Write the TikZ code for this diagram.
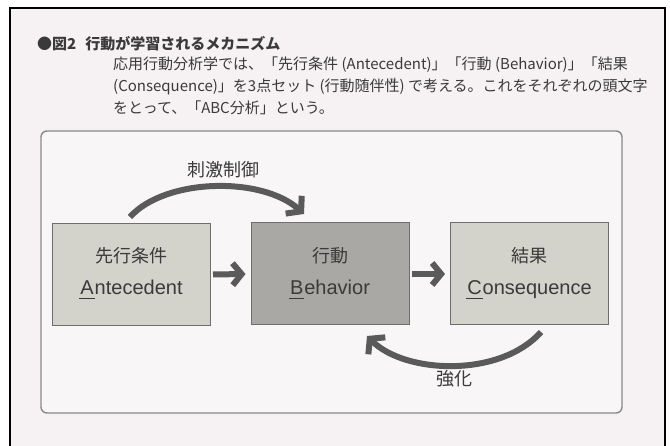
\documentclass[tikz,border=0pt]{standalone}
\usepackage{fontspec}
\setmainfont{Liberation Sans}
\newfontfamily\jp{Noto Sans CJK JP}
\usetikzlibrary{arrows.meta}
\definecolor{pagebg}{HTML}{F6F2F4}
\definecolor{innerbg}{HTML}{F8F6F7}
\definecolor{innerline}{HTML}{8A8A8A}
\definecolor{lightbox}{HTML}{D3D2CB}
\definecolor{darkbox}{HTML}{A9A8A5}
\definecolor{boxline}{HTML}{6E6E6E}
\definecolor{arrowc}{HTML}{5A5A5A}
\definecolor{txt}{HTML}{3A3A3A}
\newcommand\ulfirst[1]{{\setbox0\hbox{#1}\rlap{\kern-1pt\rule[-4.5pt]{\dimexpr\wd0+2pt\relax}{1.3pt}}\box0\kern1pt}}
\newcommand\notemark{\smash{\makebox[0pt][l]{\kern4.5pt\raisebox{10pt}{\fontsize{4.5}{4.5}\selectfont ＊5}}}}
\tikzset{
  abcbox/.style={draw=boxline, line width=1pt, minimum width=158pt, minimum height=102pt, inner sep=0pt},
  jplabel/.style={text=txt, font=\jp\fontsize{18}{20}\selectfont, inner sep=0pt},
  enlabel/.style={text=txt, font=\fontsize{20}{22}\selectfont, inner sep=0pt, anchor=base},
  flowarrow/.style={draw=arrowc, line width=6pt, -{Straight Barb[length=9pt,width=22pt]}},
  curvearrow/.style={draw=arrowc, line width=6pt, -{Straight Barb[length=10pt,width=24pt]}},
  bodytext/.style={text=txt, font=\jp\fontsize{15}{17}\selectfont, inner sep=0pt, anchor=base west},
}
\begin{document}
\begin{tikzpicture}[x=1pt,y=-1pt]
\useasboundingbox (0,0) rectangle (670,446);
\fill[white] (0,0) rectangle (670,446);
\fill[pagebg] (10,8) rectangle (665,446);
\draw[line width=2pt, black] (10,446) -- (10,8) -- (665,8) -- (665,446);
% header
\node[bodytext, font=\jp\bfseries\fontsize{15}{17}\selectfont] (hd) at (37,50) {●図2\hspace{9pt}行動が学習されるメカニズム};
\node[bodytext] (l1) at (113,70) {応用行動分析学では、「先行条件 (Antecedent)」「行動 (Behavior)」「結果};
\node[bodytext] (l2) at (113,92) {(Consequence)」を3点セット (行動随伴\notemark 性) で考える。これをそれぞれの頭文字};
\node[bodytext] (l3) at (113,114) {をとって、「ABC分析」という。};
% inner panel
\draw[innerline, fill=innerbg, line width=1.4pt, rounded corners=6pt] (41,131) rectangle (622,413);
% boxes
\node[abcbox, fill=lightbox] (a) at (131.5,274.5) {};
\node[abcbox, fill=darkbox] (b) at (330,274) {};
\node[abcbox, fill=lightbox] (c) at (529.5,274) {};
\node[jplabel] (aj) at (131.5,256) {先行条件};
\node[jplabel] (bj) at (330,256) {行動};
\node[jplabel] (cj) at (529.5,256) {結果};
\node[enlabel] (ae) at (131.5,295) {\ulfirst{A}ntecedent};
\node[enlabel] (be) at (330,295) {\ulfirst{B}ehavior};
\node[enlabel] (ce) at (529.5,295) {\ulfirst{C}onsequence};
% straight arrows
\draw[flowarrow] ([xshift=2pt]a.east) -- ([xshift=-5pt]b.west);
\draw[flowarrow] ([xshift=2pt]b.east) -- ([xshift=-5pt]c.west);
% curved arrows
\coordinate (s1) at (130,217);
\coordinate (e1) at (304,214);
\draw[curvearrow] (s1) .. controls (165,178) and (262,176) .. (e1);
\node[jplabel] (stim) at (223,170) {刺激制御};
\coordinate (s2) at (541,332);
\coordinate (e2) at (367,336);
\draw[curvearrow] (s2) .. controls (500,378) and (405,374) .. (e2);
\node[jplabel] (reinf) at (454,379) {強化};
\end{tikzpicture}
\end{document}
